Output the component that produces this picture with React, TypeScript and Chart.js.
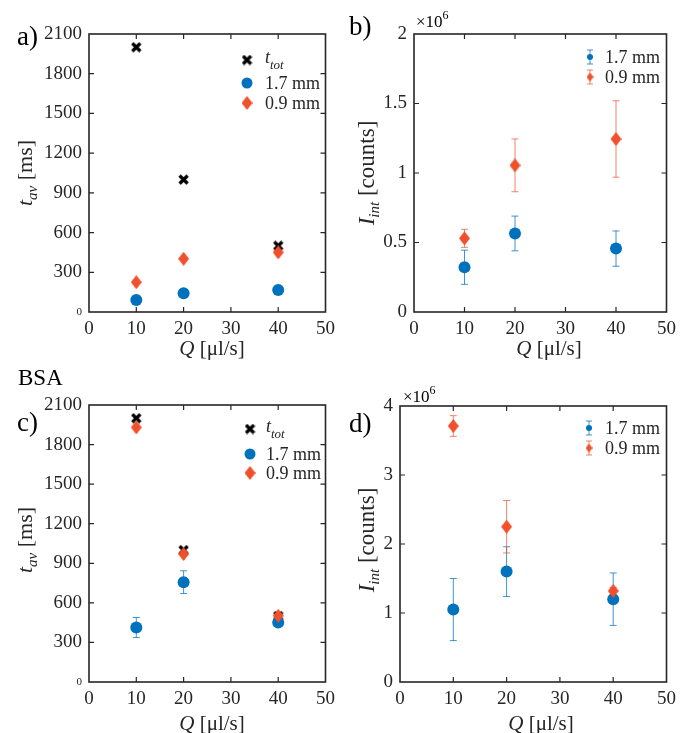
import React, { useEffect, useRef } from 'react';
import { Chart, registerables } from 'chart.js';
Chart.register(...registerables);

const FONT = '"Liberation Serif", "Times New Roman", serif';
const BLUE = '#0072BD';
const RED = '#F0502C';
const BLUE_ERR = 'rgba(0,114,189,0.75)';
const RED_ERR = 'rgba(240,80,44,0.7)';
const INK = '#262626';

// ---- data ----
const flowRates = [10, 20, 40];
const xTickValues = [0, 10, 20, 30, 40, 50];
const tTickValues = [0, 300, 600, 900, 1200, 1500, 1800, 2100];
const bTickValues = [0, 0.5e6, 1e6, 1.5e6, 2e6];
const dTickValues = [0, 1e6, 2e6, 3e6, 4e6];

// a) t_av, no additive
const aTotal = [2000, 1000, 500];
const aAv17 = [90, 141, 166];
const aAv09 = [225, 402, 450];
// b) I_int, no additive
const bInt17 = [0.322e6, 0.565e6, 0.456e6];
const bErr17 = [0.123e6, 0.125e6, 0.127e6];
const bInt09 = [0.53e6, 1.055e6, 1.245e6];
const bErr09 = [0.065e6, 0.19e6, 0.275e6];
// c) t_av, BSA
const cTotal = [2000, 1000, 500];
const cAv17 = [413, 757, 451];
const cErr17 = [76, 86, 20];
const cAv09 = [1930, 970, 502];
// d) I_int, BSA
const dInt17 = [1.05e6, 1.6e6, 1.2e6];
const dErr17 = [0.45e6, 0.36e6, 0.38e6];
const dInt09 = [3.71e6, 2.25e6, 1.32e6];
const dErr09 = [0.15e6, 0.38e6, 0.05e6];

// ---- helpers ----
type Part = { t: string; it?: boolean; s: number; dy?: number };
const fontOf = (p: Part) => `${p.it ? 'italic ' : ''}${p.s}px ${FONT}`;

function drawRich(ctx: CanvasRenderingContext2D, parts: Part[], x: number, y: number, align: 'left' | 'center', rot = 0, color = '#000') {
  ctx.save();
  ctx.translate(x, y);
  if (rot) ctx.rotate(rot);
  let w = 0;
  parts.forEach((p) => { ctx.font = fontOf(p); w += ctx.measureText(p.t).width; });
  let cx = align === 'center' ? -w / 2 : 0;
  const base = parts[0].s * 0.34;
  ctx.textBaseline = 'alphabetic';
  ctx.textAlign = 'left';
  ctx.fillStyle = color;
  parts.forEach((p) => {
    ctx.font = fontOf(p);
    ctx.fillText(p.t, cx, base + (p.dy || 0));
    cx += ctx.measureText(p.t).width;
  });
  ctx.restore();
}

function diamondImg(color: string, w: number, h: number) {
  const c = document.createElement('canvas');
  c.width = w; c.height = h;
  const g = c.getContext('2d')!;
  g.fillStyle = color;
  g.beginPath();
  g.moveTo(w / 2, 0); g.lineTo(w, h / 2); g.lineTo(w / 2, h); g.lineTo(0, h / 2);
  g.closePath(); g.fill();
  return c;
}
function crossImg(color: string, s: number, lw: number) {
  const c = document.createElement('canvas');
  c.width = s; c.height = s;
  const g = c.getContext('2d')!;
  g.strokeStyle = color; g.lineWidth = lw; g.lineCap = 'butt';
  const m = lw * 0.45;
  g.beginPath();
  g.moveTo(m, m); g.lineTo(s - m, s - m);
  g.moveTo(s - m, m); g.lineTo(m, s - m);
  g.stroke();
  return c;
}

type Kind = 'cross' | 'circle' | 'diamond';
interface Series { label: Part[]; kind: Kind; color: string; values: number[]; errors?: number[]; errColor?: string; order: number }

interface PanelCfg {
  left: number; top: number; w: number; h: number;
  L: number; R: number; T: number; B: number;
  yTicks: number[]; yMax: number; yScaleDiv: number; smallZero: boolean;
  series: Series[];
  label: { text: string; x: number; y: number };
  yTitle: { parts: Part[]; x: number; y: number };
  xTitle: { x: number; y: number };
  legend: { mx: number; tx: number; rows: number[]; errStyle: boolean };
  extras: { parts: Part[]; x: number; y: number }[];
}

const tTitle: Part[] = [{ t: 't', it: true, s: 22 }, { t: 'av', it: true, s: 15, dy: 5 }, { t: ' [ms]', s: 22 }];
const iTitle: Part[] = [{ t: 'I', it: true, s: 23 }, { t: 'int', it: true, s: 15, dy: 5 }, { t: ' [counts]', s: 23 }];
const qTitle: Part[] = [{ t: 'Q', it: true, s: 21 }, { t: ' [\u03BCl/s]', s: 21 }];
const totLabel: Part[] = [{ t: 't', it: true, s: 18 }, { t: 'tot', it: true, s: 13, dy: 6 }];
const l17: Part[] = [{ t: '1.7 mm', s: 18 }];
const l09: Part[] = [{ t: '0.9 mm', s: 18 }];
const mult: Part[] = [{ t: '\u00D710', s: 17 }, { t: '6', s: 12, dy: -8 }];

function buildChart(canvas: HTMLCanvasElement, cfg: PanelCfg) {
  const imgs: Record<string, HTMLCanvasElement> = {
    cross: crossImg('#000', 11, 3.3),
    redDiamond: diamondImg(RED, 11, 14),
    redDiamondSmall: diamondImg(RED, 7, 9),
  };

  const datasets = cfg.series.map((s) => ({
    label: s.label.map((p) => p.t).join(''),
    data: flowRates.map((x, i) => ({ x, y: s.values[i] })),
    pointStyle: s.kind === 'cross' ? imgs.cross : s.kind === 'diamond' ? imgs.redDiamond : 'circle',
    pointRadius: 6,
    pointHoverRadius: 6,
    backgroundColor: s.color,
    borderColor: s.color,
    borderWidth: 0,
    showLine: false,
    order: s.order,
    errors: s.errors,
    errColor: s.errColor,
  }));

  const errorBars = {
    id: 'errorBars',
    beforeDatasetsDraw(chart: any) {
      const ctx = chart.ctx as CanvasRenderingContext2D;
      const xs = chart.scales.x, ys = chart.scales.y;
      chart.data.datasets.forEach((ds: any) => {
        if (!ds.errors) return;
        ds.data.forEach((p: any, i: number) => {
          const e = ds.errors[i];
          if (!e) return;
          const px = xs.getPixelForValue(p.x);
          const t = ys.getPixelForValue(p.y + e);
          const b = ys.getPixelForValue(p.y - e);
          ctx.save();
          ctx.strokeStyle = ds.errColor;
          ctx.lineWidth = 1;
          ctx.beginPath();
          ctx.moveTo(px, t); ctx.lineTo(px, b);
          ctx.moveTo(px - 3.5, t); ctx.lineTo(px + 3.5, t);
          ctx.moveTo(px - 3.5, b); ctx.lineTo(px + 3.5, b);
          ctx.stroke();
          ctx.restore();
        });
      });
    },
  };

  const frame = {
    id: 'frame',
    afterDatasetsDraw(chart: any) {
      const ctx = chart.ctx as CanvasRenderingContext2D;
      const a = chart.chartArea;
      const xs = chart.scales.x, ys = chart.scales.y;
      ctx.save();
      ctx.strokeStyle = INK;
      ctx.lineWidth = 1.6;
      ctx.strokeRect(a.left, a.top, a.right - a.left, a.bottom - a.top);
      ctx.lineWidth = 1.2;
      ctx.beginPath();
      const tl = 5;
      xs.ticks.forEach((t: any) => {
        const px = xs.getPixelForValue(t.value);
        if (px <= a.left + 1 || px >= a.right - 1) return;
        ctx.moveTo(px, a.bottom); ctx.lineTo(px, a.bottom - tl);
        ctx.moveTo(px, a.top); ctx.lineTo(px, a.top + tl);
      });
      ys.ticks.forEach((t: any) => {
        const py = ys.getPixelForValue(t.value);
        if (py <= a.top + 1 || py >= a.bottom - 1) return;
        ctx.moveTo(a.left, py); ctx.lineTo(a.left + tl, py);
        ctx.moveTo(a.right, py); ctx.lineTo(a.right - tl, py);
      });
      ctx.stroke();
      ctx.restore();
    },
  };

  const texts = {
    id: 'texts',
    afterDraw(chart: any) {
      const ctx = chart.ctx as CanvasRenderingContext2D;
      drawRich(ctx, [{ t: cfg.label.text, s: 27 }], cfg.label.x, cfg.label.y, 'left');
      drawRich(ctx, cfg.yTitle.parts, cfg.yTitle.x, cfg.yTitle.y, 'center', -Math.PI / 2, INK);
      drawRich(ctx, qTitle, cfg.xTitle.x, cfg.xTitle.y, 'center', 0, INK);
      cfg.extras.forEach((e) => drawRich(ctx, e.parts, e.x, e.y, 'left'));
      // legend
      const lg = cfg.legend;
      cfg.series.forEach((s, i) => {
        const y = lg.rows[i];
        const x = lg.mx;
        ctx.save();
        if (lg.errStyle) {
          ctx.strokeStyle = s.errColor || s.color;
          ctx.lineWidth = 1;
          ctx.beginPath();
          ctx.moveTo(x, y - 7); ctx.lineTo(x, y + 7);
          ctx.moveTo(x - 3, y - 7); ctx.lineTo(x + 3, y - 7);
          ctx.moveTo(x - 3, y + 7); ctx.lineTo(x + 3, y + 7);
          ctx.stroke();
          if (s.kind === 'diamond') {
            ctx.drawImage(imgs.redDiamondSmall, x - 3.5, y - 4.5);
          } else {
            ctx.fillStyle = s.color;
            ctx.beginPath(); ctx.arc(x, y, 3, 0, Math.PI * 2); ctx.fill();
          }
        } else {
          if (s.kind === 'cross') ctx.drawImage(imgs.cross, x - 5.5, y - 5.5);
          else if (s.kind === 'diamond') ctx.drawImage(imgs.redDiamond, x - 5.5, y - 7);
          else {
            ctx.fillStyle = s.color;
            ctx.beginPath(); ctx.arc(x, y, 5.5, 0, Math.PI * 2); ctx.fill();
          }
        }
        ctx.restore();
        drawRich(ctx, s.label, lg.tx, s.kind === 'cross' ? y - 3 : y, 'left', 0, INK);
      });
    },
  };

  return new Chart(canvas, {
    type: 'scatter',
    data: { datasets: datasets as any },
    options: {
      animation: false,
      responsive: false,
      events: [],
      layout: { padding: { left: 0, top: cfg.T, right: cfg.w - cfg.R, bottom: 0 } },
      plugins: { legend: { display: false }, tooltip: { enabled: false }, title: { display: false } },
      scales: {
        x: {
          type: 'linear', min: 0, max: 50,
          afterBuildTicks: (s: any) => { s.ticks = xTickValues.map((v) => ({ value: v })); },
          afterFit: (s: any) => { s.height = cfg.h - cfg.B; },
          ticks: { font: { family: FONT, size: 19 }, color: INK, padding: 6, maxRotation: 0, autoSkip: false },
          grid: { display: false, drawTicks: false },
          border: { display: false },
        },
        y: {
          type: 'linear', min: 0, max: cfg.yMax,
          afterBuildTicks: (s: any) => { s.ticks = cfg.yTicks.map((v) => ({ value: v })); },
          afterFit: (s: any) => { s.width = cfg.L; },
          ticks: {
            font: (c: any) => ({ family: FONT, size: cfg.smallZero && c.tick && c.tick.value === 0 ? 11 : 19 }),
            color: INK, padding: 7, autoSkip: false,
            callback: (v: any) => String(Number(v) / cfg.yScaleDiv),
          },
          grid: { display: false, drawTicks: false },
          border: { display: false },
        },
      },
    } as any,
    plugins: [errorBars, frame, texts],
  });
}

const panels: PanelCfg[] = [
  {
    left: 0, top: 0, w: 341, h: 366, L: 89, R: 331, T: 34, B: 312,
    yTicks: tTickValues, yMax: 2100, yScaleDiv: 1, smallZero: true,
    series: [
      { label: totLabel, kind: 'cross', color: '#000', values: aTotal, order: 2 },
      { label: l17, kind: 'circle', color: BLUE, values: aAv17, order: 1 },
      { label: l09, kind: 'diamond', color: RED, values: aAv09, order: 0 },
    ],
    label: { text: 'a)', x: 17, y: 36 },
    yTitle: { parts: tTitle, x: 25, y: 173 },
    xTitle: { x: 212, y: 348 },
    legend: { mx: 247, tx: 265, rows: [60, 83, 103], errStyle: false },
    extras: [],
  },
  {
    left: 341, top: 0, w: 341, h: 366, L: 73, R: 331, T: 34, B: 312,
    yTicks: bTickValues, yMax: 2e6, yScaleDiv: 1e6, smallZero: false,
    series: [
      { label: l17, kind: 'circle', color: BLUE, values: bInt17, errors: bErr17, errColor: BLUE_ERR, order: 1 },
      { label: l09, kind: 'diamond', color: RED, values: bInt09, errors: bErr09, errColor: RED_ERR, order: 0 },
    ],
    label: { text: 'b)', x: 8, y: 26 },
    yTitle: { parts: iTitle, x: 25, y: 173 },
    xTitle: { x: 208, y: 348 },
    legend: { mx: 249, tx: 264, rows: [57, 77], errStyle: true },
    extras: [{ parts: mult, x: 75, y: 21 }],
  },
  {
    left: 0, top: 366, w: 341, h: 367, L: 89, R: 331, T: 39, B: 316,
    yTicks: tTickValues, yMax: 2100, yScaleDiv: 1, smallZero: true,
    series: [
      { label: totLabel, kind: 'cross', color: '#000', values: cTotal, order: 2 },
      { label: l17, kind: 'circle', color: BLUE, values: cAv17, errors: cErr17, errColor: BLUE_ERR, order: 1 },
      { label: l09, kind: 'diamond', color: RED, values: cAv09, order: 0 },
    ],
    label: { text: 'c)', x: 17, y: 56 },
    yTitle: { parts: tTitle, x: 25, y: 174 },
    xTitle: { x: 212, y: 357 },
    legend: { mx: 250, tx: 266, rows: [63, 88, 107], errStyle: false },
    extras: [{ parts: [{ t: 'BSA', s: 23 }], x: 18, y: 11 }],
  },
  {
    left: 341, top: 366, w: 341, h: 367, L: 59, R: 330, T: 40, B: 316,
    yTicks: dTickValues, yMax: 4e6, yScaleDiv: 1e6, smallZero: false,
    series: [
      { label: l17, kind: 'circle', color: BLUE, values: dInt17, errors: dErr17, errColor: BLUE_ERR, order: 1 },
      { label: l09, kind: 'diamond', color: RED, values: dInt09, errors: dErr09, errColor: RED_ERR, order: 0 },
    ],
    label: { text: 'd)', x: 8, y: 57 },
    yTitle: { parts: iTitle, x: 25, y: 174 },
    xTitle: { x: 200, y: 357 },
    legend: { mx: 248, tx: 264, rows: [62, 82], errStyle: true },
    extras: [{ parts: mult, x: 62, y: 30 }],
  },
];

function Panel({ cfg }: { cfg: PanelCfg }) {
  const ref = useRef<HTMLCanvasElement>(null);
  useEffect(() => {
    const chart = buildChart(ref.current!, cfg);
    return () => chart.destroy();
  }, [cfg]);
  return (
    <canvas
      ref={ref}
      width={cfg.w}
      height={cfg.h}
      style={{ position: 'absolute', left: cfg.left, top: cfg.top, width: cfg.w, height: cfg.h }}
    />
  );
}

export default function App() {
  return (
    <div style={{ position: 'absolute', left: 0, top: 0, width: 682, height: 733, background: '#fff', overflow: 'hidden' }}>
      {panels.map((p, i) => (
        <Panel key={i} cfg={p} />
      ))}
    </div>
  );
}
